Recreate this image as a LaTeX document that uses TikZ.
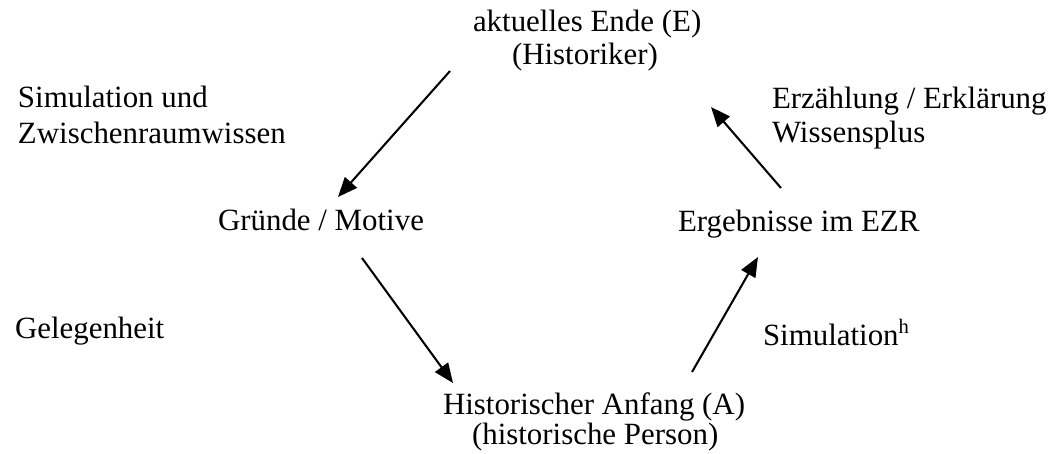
\documentclass[tikz,border=0pt]{standalone}
\usepackage{fontspec}
\setmainfont{Liberation Serif}
\usetikzlibrary{arrows.meta}

\begin{document}
\begin{tikzpicture}[
  x=0.3883pt, y=-0.3883pt,
  every node/.style={inner sep=0pt, outer sep=0pt, anchor=base west,
    font=\fontsize{12}{13.8}\selectfont},
  flow/.style={line width=0.8pt,
    -{Triangle[length=7.6pt, width=6.2pt]}}
]
  \useasboundingbox (0,0) rectangle (1049,453);

  % stations of the cycle
  \node (endeA) at (473,31) {aktuelles Ende (E)};
  \node (endeB) at (512,64) {(Historiker)};
  \node (gruende) at (218,230) {Gründe / Motive};
  \node (ergeb) at (678,231) {Ergebnisse im EZR};
  \node (anfA) at (443,414) {Historischer Anfang (A)};
  \node (anfB) at (472,444) {(historische Person)};

  % labels of the transitions
  \node (simA) at (18,107) {Simulation und};
  \node (simB) at (18,143) {Zwischenraumwissen};
  \node (erzA) at (772,108) {Erzählung / Erklärung};
  \node (erzB) at (772,142) {Wissensplus};
  \node (gelegen) at (15,338) {Gelegenheit};
  \node (simh) at (763,345) {Simulation\textsuperscript{h}};

  % connector ends
  \coordinate (e-out)  at (450,71);
  \coordinate (g-in)   at (338,197);
  \coordinate (g-out)  at (362,258);
  \coordinate (a-in)   at (453,383);
  \coordinate (a-out)  at (692,372);
  \coordinate (r-in)   at (758,257);
  \coordinate (r-out)  at (781,188);
  \coordinate (e-in)   at (711,107);

  \draw[flow] (e-out) -- (g-in);
  \draw[flow] (g-out) -- (a-in);
  \draw[flow] (a-out) -- (r-in);
  \draw[flow] (r-out) -- (e-in);
\end{tikzpicture}
\end{document}
